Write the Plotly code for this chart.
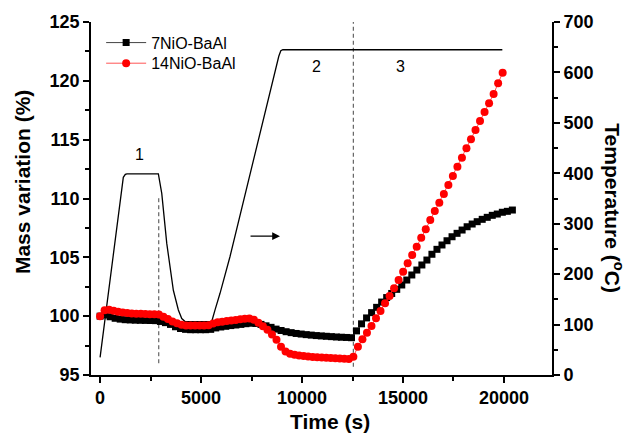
import plotly.graph_objects as go

# --- sample times (s) ---
black_step = 249
red_step = 224
black_time = [i * black_step for i in range(83)]
red_time = [i * red_step for i in range(90)]

# --- mass variation (%) ---
mass_7nio = [
    100.0, 100.1, 99.95, 99.82, 99.75, 99.7, 99.68, 99.66, 99.65, 99.64,
    99.63, 99.62, 99.55, 99.45, 99.3, 99.1, 98.95, 98.88, 98.85, 98.85,
    98.85, 98.85, 98.88, 99.0, 99.08, 99.14, 99.2, 99.25, 99.3, 99.36,
    99.4, 99.38, 99.3, 99.18, 99.05, 98.9, 98.78, 98.68, 98.6, 98.53,
    98.48, 98.43, 98.39, 98.35, 98.32, 98.29, 98.26, 98.23, 98.21, 98.19,
    98.17,
    98.75, 99.35, 99.85, 100.3, 100.75, 101.2, 101.58, 101.93, 102.28, 102.65,
    103.07, 103.5, 103.92, 104.35, 104.77, 105.26, 105.68, 106.05, 106.41, 106.75,
    107.04, 107.32, 107.6, 107.83, 108.03, 108.23, 108.4, 108.57, 108.68, 108.83,
    108.91, 109.02,
]

mass_14nio = [
    100.0, 100.5, 100.55, 100.45, 100.38, 100.32, 100.27, 100.23, 100.2, 100.2,
    100.18, 100.17, 100.16, 100.15, 99.95, 99.75, 99.55, 99.4, 99.27, 99.2,
    99.2, 99.2, 99.2, 99.2, 99.22, 99.38, 99.48, 99.53, 99.58, 99.63,
    99.68, 99.73, 99.78, 99.8, 99.7, 99.45, 99.15, 98.85, 98.45, 98.0,
    97.4, 97.0, 96.8, 96.72, 96.66, 96.62, 96.58, 96.54, 96.51, 96.49,
    96.46, 96.44, 96.42, 96.4, 96.38, 96.37,
    96.56, 97.41, 98.03, 98.59, 99.16, 99.82, 100.44, 101.09, 101.71, 102.37,
    103.07, 103.78, 104.49, 105.2, 105.9, 106.67, 107.38, 108.17, 108.94, 109.64,
    110.38, 111.15, 111.91, 112.7, 113.47, 114.27, 115.03, 115.82, 116.59, 117.35,
    118.09, 118.88, 119.79, 120.69,
]

# --- temperature programme (°C) ---
temp_time = [0, 1150, 1250, 1330, 2886, 3054, 3302, 3628, 3876, 4044, 4208,
             5529, 5700, 5940, 6435, 8415, 8850, 8950, 9050, 19920]
temp_val = [35, 392, 398, 399, 399, 360, 261, 168, 129, 112, 106,
            106, 130, 162, 235, 565, 632, 643, 645, 645]

# --- stage markers ---
stage_labels = ["1", "2", "3"]
stage_time = [1955, 10700, 14890]
stage_mass = [113.7, 121.2, 121.2]
divider_time = [2906, 12540]
divider_lo = [96.0, 95.7]
divider_hi = [110.1, 125.0]

FONT = "Liberation Sans, Arial, sans-serif"
X_RANGE = [-450, 22380]

fig = go.Figure()

fig.add_trace(go.Scatter(
    x=temp_time, y=temp_val, mode="lines", xaxis="x", yaxis="y",
    line=dict(color="black", width=1.3), showlegend=False, hoverinfo="skip",
))
fig.add_trace(go.Scatter(
    x=black_time, y=mass_7nio, mode="lines+markers", name="7NiO-BaAl",
    xaxis="x", yaxis="y2", legend="legend",
    line=dict(color="#444444", width=1),
    marker=dict(symbol="square", size=7, color="black", line=dict(width=0)),
))
fig.add_trace(go.Scatter(
    x=red_time, y=mass_14nio, mode="lines+markers", name="14NiO-BaAl",
    xaxis="x", yaxis="y2", legend="legend2",
    line=dict(color="#ff5555", width=1),
    marker=dict(symbol="circle", size=8, color="red", line=dict(width=0)),
))

tick_font = dict(family=FONT, size=18, color="black", weight="bold")
axis_common = dict(
    showgrid=False, zeroline=False, showline=True, linecolor="black",
    linewidth=1.6, ticks="outside", tickcolor="black", tickwidth=1.5,
    ticklen=6, tickfont=tick_font, tickformat="d",
)

legend_common = dict(
    x=0.022, xanchor="left", yanchor="middle",
    bgcolor="rgba(0,0,0,0)", borderwidth=0,
    font=dict(family=FONT, size=16, color="black"),
    itemwidth=40,
)

fig.update_layout(
    width=627, height=435,
    margin=dict(l=91, r=75, t=22, b=60),
    paper_bgcolor="white", plot_bgcolor="white",
    font=dict(family=FONT, color="black"),
    xaxis=dict(
        **axis_common, range=X_RANGE, anchor="y", side="bottom",
        tick0=0, dtick=5000,
        minor=dict(ticks="outside", dtick=2500, ticklen=4, tickwidth=1.5, tickcolor="black"),
    ),
    xaxis2=dict(
        range=X_RANGE, overlaying="x", anchor="y", side="top",
        showgrid=False, zeroline=False, showline=True, linecolor="black",
        linewidth=1.6, ticks="inside", tick0=0, dtick=2500, ticklen=4,
        tickwidth=1.2, tickcolor="black", showticklabels=False,
    ),
    yaxis=dict(
        **axis_common, range=[0, 700], side="right", anchor="x",
        tick0=0, dtick=100,
        minor=dict(ticks="outside", dtick=50, ticklen=4, tickwidth=1.5, tickcolor="black"),
    ),
    yaxis2=dict(
        **axis_common, range=[95, 125], side="left", overlaying="y", anchor="x",
        tick0=95, dtick=5,
        minor=dict(ticks="outside", dtick=2.5, ticklen=4, tickwidth=1.5, tickcolor="black"),
    ),
    legend=dict(**legend_common, y=0.9414),
    legend2=dict(**legend_common, y=0.883),
)

title_font = dict(family=FONT, size=21, color="black", weight="bold")
annotations = [
    dict(text="Mass variation (%)", xref="paper", yref="paper", x=-0.1486, y=0.548,
         xanchor="center", yanchor="middle", textangle=-90, showarrow=False,
         font=title_font),
    dict(text="Temperature (<sup>o</sup>C)", xref="paper", yref="paper", x=1.134, y=0.473,
         xanchor="center", yanchor="middle", textangle=90, showarrow=False,
         font=title_font),
    dict(text="Time (s)", xref="paper", yref="paper", x=0.518, y=-0.133,
         xanchor="center", yanchor="middle", showarrow=False,
         font=title_font),
    dict(text="", x=8910, y=106.8, ax=7376, ay=106.8, xref="x", yref="y2",
         axref="x", ayref="y2", showarrow=True, arrowhead=2, arrowsize=1.3,
         arrowwidth=1.2, arrowcolor="black"),
]
for lab, t, m in zip(stage_labels, stage_time, stage_mass):
    annotations.append(dict(text=lab, x=t, y=m, xref="x", yref="y2", showarrow=False,
                            font=dict(family=FONT, size=16, color="black")))
fig.update_layout(annotations=annotations)

for t, lo, hi in zip(divider_time, divider_lo, divider_hi):
    fig.add_shape(type="line", x0=t, x1=t, y0=lo, y1=hi, xref="x", yref="y2",
                  line=dict(color="#444444", width=1, dash="4px,3px"), layer="below")

fig.write_html("out.html")
